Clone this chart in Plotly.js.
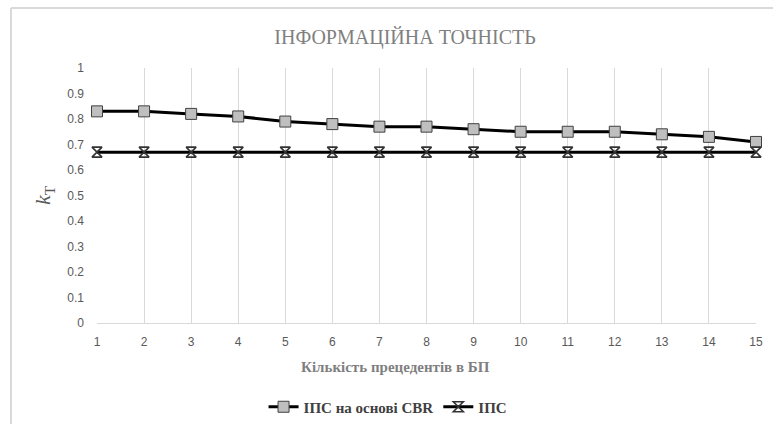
<!DOCTYPE html>
<html>
<head>
<meta charset="utf-8">
<script src="https://cdn.plot.ly/plotly-3.0.1.min.js"></script>
<style>html,body{margin:0;padding:0;background:#fff;}#chart{width:773px;height:424px;}</style>
</head>
<body>
<div id="chart"></div>
<script>
const precedents = [1, 2, 3, 4, 5, 6, 7, 8, 9, 10, 11, 12, 13, 14, 15];
const ipsCbr = [0.83, 0.83, 0.82, 0.81, 0.79, 0.78, 0.77, 0.77, 0.76, 0.75, 0.75, 0.75, 0.74, 0.73, 0.71];
const ips = [0.67, 0.67, 0.67, 0.67, 0.67, 0.67, 0.67, 0.67, 0.67, 0.67, 0.67, 0.67, 0.67, 0.67, 0.67];
const seriesNames = ["ІПС на основі CBR", "ІПС"];
const yTickVals = [0, 0.1, 0.2, 0.3, 0.4, 0.5, 0.6, 0.7, 0.8, 0.9, 1];
const yTickText = ["0", "0.1", "0.2", "0.3", "0.4", "0.5", "0.6", "0.7", "0.8", "0.9", "1"];
const xTitle = "Кількість прецедентів в БП";

const W = 773, H = 424, L = 97, R = 17, T = 68, B = 101;
const pw = W - L - R, ph = H - T - B;
const px = x => (x - L) / pw;
const py = y => (H - B - y) / ph;

const traces = [
  {
    x: precedents, y: ipsCbr, name: '<b>' + seriesNames[0] + '</b>', type: 'scatter', mode: 'lines+markers',
    line: {color: '#000000', width: 3},
    marker: {symbol: 'square', size: 11, color: '#bfbfbf', line: {color: '#404040', width: 1}},
    cliponaxis: false
  },
  {
    x: precedents, y: ips, name: '<b>' + seriesNames[1] + '</b>', type: 'scatter', mode: 'lines+markers',
    line: {color: '#000000', width: 3},
    marker: {symbol: 'hourglass-open', size: 10, color: '#333333', line: {color: '#333333', width: 1.6}},
    cliponaxis: false
  }
];

const layout = {
  width: W, height: H,
  margin: {l: L, r: R, t: T, b: B, autoexpand: false},
  paper_bgcolor: '#ffffff', plot_bgcolor: '#ffffff',
  showlegend: true,
  title: {
    text: 'ІНФОРМАЦІЙНА ТОЧНІСТЬ',
    font: {family: 'Liberation Serif', size: 20, color: '#7f7f7f'},
    x: 405 / W, xanchor: 'center', y: 1 - 37 / H, yanchor: 'middle', xref: 'container', yref: 'container'
  },
  xaxis: {
    range: [1, 15], tickvals: precedents, ticktext: precedents.map(String),
    showgrid: true, gridcolor: '#d9d9d9', gridwidth: 1,
    showline: true, linecolor: '#d9d9d9', linewidth: 1,
    zeroline: false, ticks: '', ticklabelstandoff: 8, automargin: false,
    tickfont: {family: 'Liberation Sans', size: 12, color: '#595959'}
  },
  yaxis: {
    range: [0, 1], tickvals: yTickVals, ticktext: yTickText,
    showgrid: false, showline: false, zeroline: false, ticks: '', ticklabelstandoff: 12, automargin: false,
    tickfont: {family: 'Liberation Sans', size: 12, color: '#595959'},
    title: {text: '<i>k</i><sub>Т</sub>', standoff: 10,
      font: {family: 'Liberation Serif', size: 22, color: '#595959'}}
  },
  annotations: [
    {text: '<b>' + xTitle + '</b>', xref: 'paper', yref: 'paper', x: px(395), y: py(367),
     xanchor: 'center', yanchor: 'middle', showarrow: false,
     font: {family: 'Liberation Serif', size: 15, color: '#7f7f7f'}}
  ],
  legend: {
    orientation: 'h', x: 0.502, xanchor: 'center', xref: 'container',
    y: 1 - 407 / H, yanchor: 'middle', yref: 'container',
    font: {family: 'Liberation Serif', size: 15, color: '#404040'},
    itemwidth: 30, traceorder: 'normal', bgcolor: 'rgba(0,0,0,0)'
  },
  shapes: [
    {type: 'line', xref: 'paper', yref: 'paper', x0: px(11), x1: px(W + 5), y0: py(8), y1: py(8),
     line: {color: '#d9d9d9', width: 2}},
    {type: 'line', xref: 'paper', yref: 'paper', x0: px(11), x1: px(11), y0: py(8), y1: py(H + 5),
     line: {color: '#d9d9d9', width: 2}}
  ]
};

Plotly.newPlot('chart', traces, layout, {displayModeBar: false, staticPlot: true});
</script>
</body>
</html>
